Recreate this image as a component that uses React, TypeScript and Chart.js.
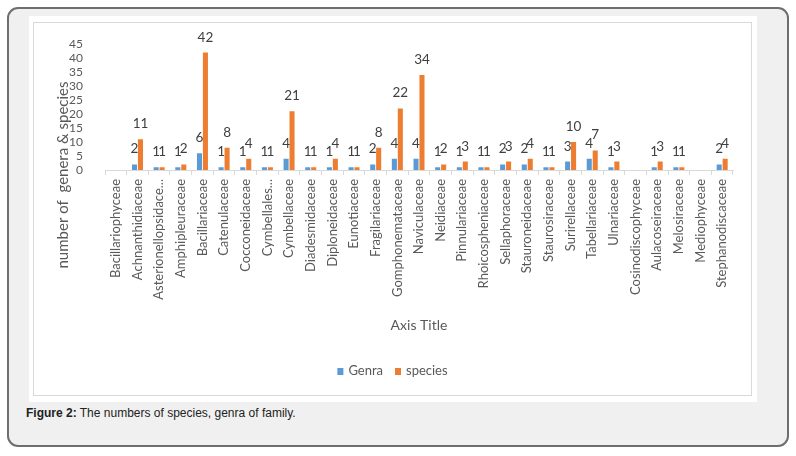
import React, { useEffect, useRef } from "react";
import { Chart, registerables } from "chart.js";

Chart.register(...registerables);

const categories = [
  "Bacillariophyceae",
  "Achnanthidiaceae",
  "Asterionellopsidace...",
  "Amphipleuraceae",
  "Bacillariaceae",
  "Catenulaceae",
  "Cocconeidaceae",
  "Cymbellales...",
  "Cymbellaceae",
  "Diadesmidaceae",
  "Diploneidaceae",
  "Eunotiaceae",
  "Fragilariaceae",
  "Gomphonemataceae",
  "Naviculaceae",
  "Neidiaceae",
  "Pinnulariaceae",
  "Rhoicospheniaceae",
  "Sellaphoraceae",
  "Stauroneidaceae",
  "Staurosiraceae",
  "Surirellaceae",
  "Tabellariaceae",
  "Ulnariaceae",
  "Cosinodiscophyceae",
  "Aulacoseiraceae",
  "Melosiraceae",
  "Mediophyceae",
  "Stephanodiscaceae",
];

const genra: (number | null)[] = [
  null, 2, 1, 1, 6, 1, 1, 1, 4, 1, 1, 1, 2, 4, 4, 1, 1, 1, 2, 2, 1, 3, 4, 1, null, 1, 1, null, 2,
];

const species: (number | null)[] = [
  null, 11, 1, 2, 42, 8, 4, 1, 21, 1, 4, 1, 8, 22, 34, 2, 3, 1, 3, 4, 1, 10, 7, 3, null, 3, 1, null, 4,
];

const seriesNames = ["Genra", "species"];
const seriesColors = ["#5b9bd5", "#ed7d31"];
const yAxisTitle = "number of  genera & species";
const xAxisTitle = "Axis Title";
const yMin = 0;
const yMax = 45;
const yStep = 5;

const FONT = "Lato, 'Open Sans', sans-serif";

const barLabelPlugin = {
  id: "barLabels",
  afterDatasetsDraw(chart: any) {
    const ctx = chart.ctx;
    ctx.save();
    ctx.font = `13.5px ${FONT}`;
    ctx.fillStyle = "#404040";
    ctx.textAlign = "center";
    ctx.textBaseline = "alphabetic";
    chart.data.datasets.forEach((ds: any, i: number) => {
      const meta = chart.getDatasetMeta(i);
      meta.data.forEach((el: any, j: number) => {
        const v = ds.data[j];
        if (v == null) return;
        ctx.fillText(String(v), el.x, el.y - 11);
      });
    });
    ctx.restore();
  },
};

const yTitlePlugin = {
  id: "yTitle",
  afterDraw(chart: any) {
    const ctx = chart.ctx;
    const area = chart.chartArea;
    ctx.save();
    ctx.translate(area.left - 42, area.bottom + 5);
    ctx.rotate(-Math.PI / 2);
    ctx.font = `15px ${FONT}`;
    ctx.fillStyle = "#595959";
    ctx.textAlign = "center";
    ctx.textBaseline = "middle";
    ctx.fillText(yAxisTitle, 0, 0);
    ctx.restore();
  },
};

const legendPlugin = {
  id: "customLegend",
  afterDraw(chart: any) {
    const ctx = chart.ctx;
    ctx.save();
    ctx.font = `13px ${FONT}`;
    ctx.textBaseline = "middle";
    ctx.textAlign = "left";
    const box = 6;
    const gapText = 5;
    const gapItem = 12;
    const widths = chart.data.datasets.map((ds: any) => ctx.measureText(ds.label).width);
    let total = 0;
    widths.forEach((w: number, i: number) => {
      total += box + gapText + w + (i < widths.length - 1 ? gapItem : 0);
    });
    let x = chart.width / 2 - total / 2;
    const y = chart.height - 24;
    chart.data.datasets.forEach((ds: any, i: number) => {
      ctx.fillStyle = ds.backgroundColor;
      ctx.fillRect(x, y - box / 2, box, box + 1);
      x += box + gapText;
      ctx.fillStyle = "#595959";
      ctx.fillText(ds.label, x, y);
      x += widths[i] + gapItem;
    });
    ctx.restore();
  },
};

function ChartCanvas() {
  const ref = useRef<HTMLCanvasElement | null>(null);
  useEffect(() => {
    if (!ref.current) return;
    const chart = new Chart(ref.current, {
      type: "bar",
      data: {
        labels: categories,
        datasets: [
          {
            label: seriesNames[0],
            data: genra,
            backgroundColor: seriesColors[0],
            categoryPercentage: 0.55,
            barPercentage: 0.85,
          },
          {
            label: seriesNames[1],
            data: species,
            backgroundColor: seriesColors[1],
            categoryPercentage: 0.55,
            barPercentage: 0.85,
          },
        ],
      },
      options: {
        animation: false,
        responsive: false,
        maintainAspectRatio: false,
        layout: { padding: { left: 0, right: 18, top: 18, bottom: 61 } },
        plugins: {
          legend: { display: false },
          tooltip: { enabled: false },
        },
        scales: {
          x: {
            grid: {
              display: true,
              drawOnChartArea: false,
              drawTicks: true,
              tickLength: 5,
              color: "#d9d9d9",
              offset: true,
            },
            border: { display: true, color: "#d9d9d9" },
            ticks: {
              autoSkip: false,
              maxRotation: 90,
              minRotation: 90,
              padding: 4,
              color: "#595959",
              font: { family: FONT, size: 13 },
            },
            title: {
              display: true,
              text: xAxisTitle,
              color: "#595959",
              font: { family: FONT, size: 14 },
              padding: { top: 0, bottom: 0 },
            },
            afterFit: (s: any) => {
              s.height = 164;
            },
          },
          y: {
            min: yMin,
            max: yMax,
            ticks: {
              stepSize: yStep,
              autoSkip: false,
              padding: 14,
              color: "#595959",
              font: { family: FONT, size: 12 },
            },
            grid: { display: false },
            border: { display: false },
            afterFit: (s: any) => {
              s.width = 71;
            },
          },
        },
      },
      plugins: [barLabelPlugin, yTitlePlugin, legendPlugin],
    } as any);
    return () => chart.destroy();
  }, []);
  return (
    <canvas
      ref={ref}
      width={717}
      height={372}
      style={{ position: "absolute", left: 34, top: 23, width: 717, height: 372 }}
    />
  );
}

export default function App() {
  return (
    <div style={{ position: "fixed", left: 0, top: 0, width: 796, height: 456, background: "#ffffff" }}>
      <div
        style={{
          position: "absolute",
          left: 7,
          top: 7,
          width: 782,
          height: 440,
          boxSizing: "border-box",
          border: "2px solid #6e6e6e",
          borderRadius: 11,
          background: "#f0f0f0",
        }}
      />
      <div style={{ position: "absolute", left: 29, top: 16, width: 728, height: 386, background: "#ffffff" }} />
      <div
        style={{
          position: "absolute",
          left: 33,
          top: 22,
          width: 719,
          height: 374,
          boxSizing: "border-box",
          border: "1px solid #d9d9d9",
        }}
      />
      <ChartCanvas />
      <div
        style={{
          position: "absolute",
          left: 26,
          top: 405,
          fontFamily: "'Liberation Sans', Arial, sans-serif",
          fontSize: 12,
          lineHeight: "16px",
          color: "#222222",
          whiteSpace: "nowrap",
        }}
      >
        <b>Figure 2:</b> The numbers of species, genra of family.
      </div>
    </div>
  );
}
